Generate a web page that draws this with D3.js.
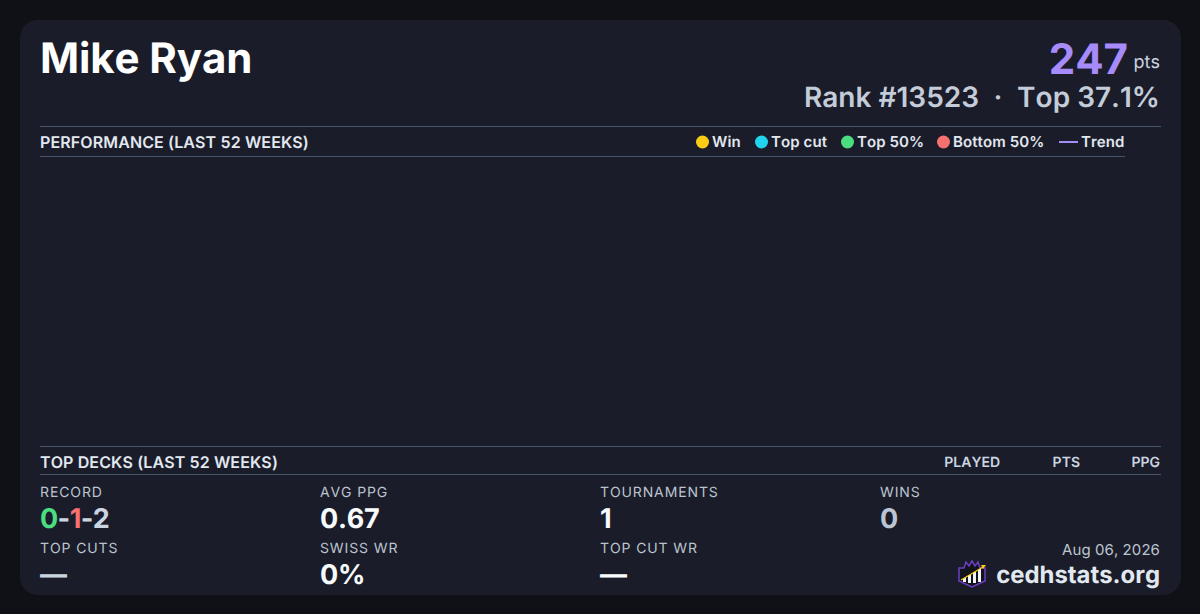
<!DOCTYPE html>
<html>
<head>
<meta charset="utf-8">
<script src="https://cdn.jsdelivr.net/npm/d3@7"></script>
<style>
  html, body { margin: 0; padding: 0; background: #0f1117; }
  svg { display: block; }
  text { font-family: Inter, sans-serif; text-rendering: geometricPrecision; font-kerning: none; }
</style>
</head>
<body>
<svg id="card" width="1200" height="614"></svg>
<script>
// values
var playerName = "Mike Ryan";
var points = 247;
var rankLine = ["Rank #13523", "\u00b7", "Top 37.1%"];
var legendLabels = ["Win", "Top cut", "Top 50%", "Bottom 50%", "Trend"];
var legendColors = ["#facc15", "#22d3ee", "#4ade80", "#f87171", "#a78bfa"];
var legendX = [696, 755, 841, 937, 1059];
var deckColumns = ["PLAYED", "PTS", "PPG"];
var deckColumnRight = [1000, 1080, 1160];
var statLabels = ["RECORD", "AVG PPG", "TOURNAMENTS", "WINS", "TOP CUTS", "SWISS WR", "TOP CUT WR"];
var statValues = ["0-1-2", "0.67", "1", "0", "\u2014", "0%", "\u2014"];
var statFills = ["#cbd5e1", "#f8fafc", "#f8fafc", "#bcc5d3", "#cbd5e1", "#f8fafc", "#f8fafc"];
var statColumn = [0, 1, 2, 3, 0, 1, 2];
var statRow = [0, 0, 0, 0, 1, 1, 1];
var perfDates = [];   // no results plotted in the window
var perfPoints = [];

var svg = d3.select("#card");

function addText(x, y, str, size, weight, fill, anchor) {
  return svg.append("text")
    .attr("x", x).attr("y", y)
    .attr("font-size", size)
    .attr("font-weight", weight)
    .attr("fill", fill)
    .attr("text-anchor", anchor || "start")
    .text(str);
}

function rule(x1, x2, y) {
  svg.append("line")
    .attr("x1", x1).attr("x2", x2)
    .attr("y1", y + 0.5).attr("y2", y + 0.5)
    .attr("stroke", "#475569");
}

svg.append("rect")
  .attr("x", 20).attr("y", 20)
  .attr("width", 1161).attr("height", 575)
  .attr("rx", 18)
  .attr("fill", "#1a1d29");

// header
addText(40, 73, playerName, 42, 700, "#ffffff").attr("letter-spacing", -0.1);
addText(1128, 74, points, 42, 700, "#a78bfa", "end");
addText(1160, 68, "pts", 18, 400, "#cbd5e1", "end");
addText(979, 107, rankLine[0], 28, 600, "#c5ccd9", "end");
addText(998, 107, rankLine[1], 28, 600, "#c5ccd9", "middle");
addText(1160, 107, rankLine[2], 28, 600, "#c5ccd9", "end");

// performance section
rule(40, 1161, 126);
rule(40, 1125, 156);
addText(40, 148, "PERFORMANCE (LAST 52 WEEKS)", 16, 600, "#e2e8f0").attr("letter-spacing", 0.12);

legendLabels.forEach(function (label, i) {
  if (label === "Trend") {
    svg.append("line")
      .attr("x1", legendX[i]).attr("x2", legendX[i] + 19)
      .attr("y1", 142).attr("y2", 142)
      .attr("stroke", legendColors[i]).attr("stroke-width", 2);
    addText(legendX[i] + 22, 147, label, 15, 600, "#e2e8f0");
  } else {
    svg.append("circle")
      .attr("cx", legendX[i] + 6.5).attr("cy", 142).attr("r", 6.5)
      .attr("fill", legendColors[i]);
    addText(legendX[i] + 16, 147, label, 15, 600, "#e2e8f0").attr("letter-spacing", 0.1);
  }
});

// empty plot, the scales are there for when results exist
var x = d3.scaleTime().domain([new Date(2025, 7, 6), new Date(2026, 7, 6)]).range([40, 1125]);
var y = d3.scaleLinear().domain([0, 4]).range([440, 160]);
svg.append("g").selectAll("circle")
  .data(perfPoints)
  .join("circle")
  .attr("cx", function (d, i) { return x(perfDates[i]); })
  .attr("cy", function (d) { return y(d); })
  .attr("r", 4);

// top decks section
rule(40, 1161, 446);
rule(40, 1161, 474);
addText(40, 468, "TOP DECKS (LAST 52 WEEKS)", 16, 600, "#e2e8f0").attr("letter-spacing", 0.12);
deckColumns.forEach(function (label, i) {
  addText(deckColumnRight[i], 467, label, 14, 600, "#cbd5e1", "end");
});

// stats grid
var colX = d3.scaleLinear().domain([0, 1]).range([40, 320]);
statLabels.forEach(function (label, i) {
  var cx = colX(statColumn[i]);
  var row = statRow[i];
  addText(cx, 497 + row * 56, label, 14, 400, "#bcc4d0").attr("letter-spacing", 0.88);
  if (i === 0) {
    var rec = svg.append("text")
      .attr("x", cx).attr("y", 528)
      .attr("font-size", 27).attr("font-weight", 700).attr("fill", statFills[0])
      .attr("letter-spacing", -0.6);
    var parts = statValues[0].split("-");
    rec.append("tspan").attr("fill", "#4ade80").text(parts[0]);
    rec.append("tspan").text("-");
    rec.append("tspan").attr("fill", "#f87171").text(parts[1]);
    rec.append("tspan").text("-" + parts[2]);
  } else {
    addText(cx, 528 + row * 56, statValues[i], 27, 700, statFills[i]).attr("letter-spacing", -0.25);
  }
});

// footer
addText(1160, 555, "Aug 06, 2026", 15, 400, "#bcc4d0", "end").attr("letter-spacing", 0.08);
addText(1160, 583, "cedhstats.org", 23.9, 700, "#e2e8f0", "end");

// logo
var logo = svg.append("g").attr("transform", "translate(958,560)");
logo.append("path")
  .attr("d", "M1 8 H6 L8 2 L11 6 L14 1 L17 6 L20 2 L22 8 H27 V21 L14 27 L1 21 Z")
  .attr("fill", "#11131b").attr("stroke", "#6d3fc4").attr("stroke-width", 1.5);
[[5, 18, 3, 4], [10, 15, 3, 8], [15, 12, 3, 11], [20, 9, 3, 13]].forEach(function (b) {
  logo.append("rect").attr("x", b[0]).attr("y", b[1]).attr("width", b[2]).attr("height", b[3]).attr("fill", "#f1f5f9");
});
logo.append("line").attr("x1", 3).attr("y1", 20).attr("x2", 25).attr("y2", 7).attr("stroke", "#facc15").attr("stroke-width", 1.3);
logo.append("path").attr("d", "M28 5 L23 5 L25 9 Z").attr("fill", "#facc15");
</script>
</body>
</html>
